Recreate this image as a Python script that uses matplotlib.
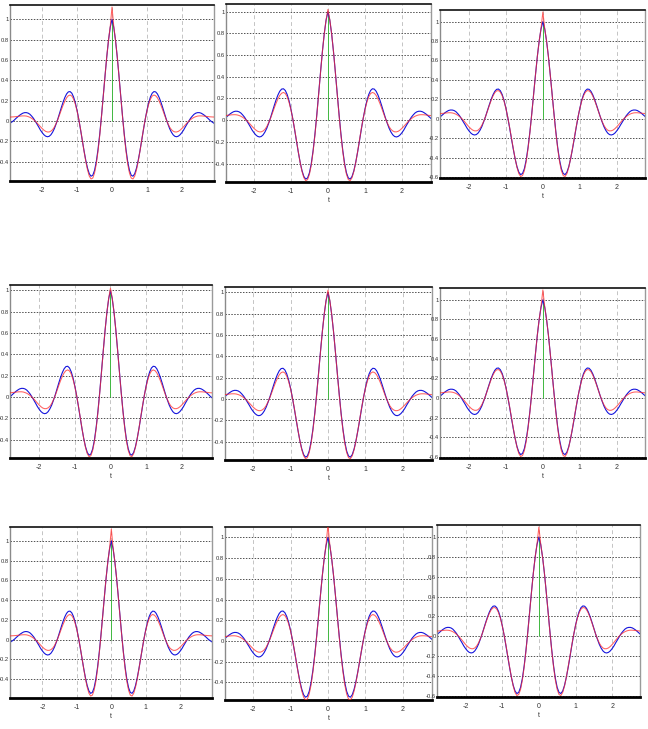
import matplotlib
matplotlib.use("Agg")
import matplotlib.pyplot as plt
from matplotlib.ticker import FixedLocator

# ---------------- data ----------------
t = [-2.95, -2.90, -2.85, -2.80, -2.75, -2.70, -2.65, -2.60, -2.55,
     -2.50, -2.45, -2.40, -2.35, -2.30, -2.25, -2.20, -2.15, -2.10, -2.05,
     -2.00, -1.95, -1.90, -1.85, -1.80, -1.75, -1.70, -1.65, -1.60, -1.55,
     -1.50, -1.45, -1.40, -1.35, -1.30, -1.25, -1.20, -1.15, -1.10, -1.05,
     -1.00, -0.95, -0.90, -0.85, -0.80, -0.75, -0.70, -0.65, -0.60, -0.55,
     -0.50, -0.45, -0.40, -0.35, -0.30, -0.25, -0.20, -0.15, -0.10, -0.05,
     0.00,
     0.05, 0.10, 0.15, 0.20, 0.25, 0.30, 0.35, 0.40, 0.45, 0.50,
     0.55, 0.60, 0.65, 0.70, 0.75, 0.80, 0.85, 0.90, 0.95, 1.00,
     1.05, 1.10, 1.15, 1.20, 1.25, 1.30, 1.35, 1.40, 1.45, 1.50,
     1.55, 1.60, 1.65, 1.70, 1.75, 1.80, 1.85, 1.90, 1.95, 2.00,
     2.05, 2.10, 2.15, 2.20, 2.25, 2.30, 2.35, 2.40, 2.45, 2.50,
     2.55, 2.60, 2.65, 2.70, 2.75, 2.80, 2.85, 2.90, 2.95]

# blue response, left and middle columns
blue_a = [-0.029, -0.018, -0.006, 0.008, 0.025, 0.040, 0.055, 0.067, 0.077,
          0.082, 0.082, 0.077, 0.066, 0.048, 0.027, 0.000, -0.029, -0.058, -0.089,
          -0.114, -0.135, -0.149, -0.155, -0.151, -0.136, -0.110, -0.075, -0.029, 0.021,
          0.077, 0.133, 0.186, 0.231, 0.266, 0.286, 0.289, 0.273, 0.236, 0.179,
          0.104, 0.015, -0.086, -0.191, -0.294, -0.388, -0.465, -0.519, -0.543, -0.533,
          -0.486, -0.401, -0.279, -0.126, 0.052, 0.246, 0.442, 0.630, 0.794, 0.922,
          1.000,
          0.922, 0.794, 0.630, 0.442, 0.246, 0.052, -0.126, -0.279, -0.401, -0.486,
          -0.533, -0.543, -0.519, -0.465, -0.388, -0.294, -0.191, -0.086, 0.015, 0.104,
          0.179, 0.236, 0.273, 0.289, 0.286, 0.266, 0.231, 0.186, 0.133, 0.077,
          0.021, -0.029, -0.075, -0.110, -0.136, -0.151, -0.155, -0.149, -0.135, -0.114,
          -0.089, -0.058, -0.029, 0.000, 0.027, 0.048, 0.066, 0.077, 0.082, 0.082,
          0.077, 0.067, 0.055, 0.040, 0.025, 0.008, -0.006, -0.018, -0.029]

# blue response, right-hand column (slightly larger lobes)
blue_b = [-0.032, -0.020, -0.007, 0.009, 0.028, 0.044, 0.061, 0.074, 0.085,
          0.090, 0.090, 0.085, 0.073, 0.053, 0.030, 0.000, -0.032, -0.063, -0.096,
          -0.123, -0.146, -0.161, -0.167, -0.163, -0.147, -0.119, -0.081, -0.031, 0.022,
          0.082, 0.141, 0.197, 0.245, 0.282, 0.303, 0.306, 0.289, 0.250, 0.190,
          0.110, 0.016, -0.091, -0.203, -0.312, -0.411, -0.493, -0.550, -0.575, -0.564,
          -0.514, -0.423, -0.293, -0.132, 0.054, 0.254, 0.452, 0.640, 0.800, 0.925,
          1.000,
          0.925, 0.800, 0.640, 0.452, 0.254, 0.054, -0.132, -0.293, -0.423, -0.514,
          -0.564, -0.575, -0.550, -0.493, -0.411, -0.312, -0.203, -0.091, 0.016, 0.110,
          0.190, 0.250, 0.289, 0.306, 0.303, 0.282, 0.245, 0.197, 0.141, 0.082,
          0.022, -0.031, -0.081, -0.119, -0.147, -0.163, -0.167, -0.161, -0.146, -0.123,
          -0.096, -0.063, -0.032, 0.000, 0.030, 0.053, 0.073, 0.085, 0.090, 0.090,
          0.085, 0.074, 0.061, 0.044, 0.028, 0.009, -0.007, -0.020, -0.032]

# red approximation: with a tall spike at t = 0
red_spike = [0.038, 0.039, 0.040, 0.041, 0.043, 0.045, 0.047, 0.049, 0.050,
             0.050, 0.048, 0.043, 0.036, 0.026, 0.014, -0.001, -0.018, -0.037, -0.056,
             -0.074, -0.090, -0.102, -0.108, -0.108, -0.100, -0.085, -0.060, -0.025, 0.016,
             0.062, 0.110, 0.155, 0.195, 0.228, 0.248, 0.255, 0.245, 0.215, 0.165,
             0.098, 0.015, -0.082, -0.190, -0.298, -0.398, -0.482, -0.542, -0.570, -0.561,
             -0.512, -0.424, -0.296, -0.138, 0.045, 0.242, 0.442, 0.632, 0.795, 0.930,
             1.120,
             0.930, 0.795, 0.632, 0.442, 0.242, 0.045, -0.138, -0.296, -0.424, -0.512,
             -0.561, -0.570, -0.542, -0.482, -0.398, -0.298, -0.190, -0.082, 0.015, 0.098,
             0.165, 0.215, 0.245, 0.255, 0.248, 0.228, 0.195, 0.155, 0.110, 0.062,
             0.016, -0.025, -0.060, -0.085, -0.100, -0.108, -0.108, -0.102, -0.090, -0.074,
             -0.056, -0.037, -0.018, -0.001, 0.014, 0.026, 0.036, 0.043, 0.048, 0.050,
             0.050, 0.049, 0.047, 0.045, 0.043, 0.041, 0.040, 0.039, 0.038]

# red approximation: peak close to 1
red_flat = [0.038, 0.039, 0.040, 0.041, 0.043, 0.045, 0.047, 0.049, 0.050,
            0.050, 0.048, 0.043, 0.036, 0.026, 0.014, -0.001, -0.018, -0.037, -0.056,
            -0.074, -0.090, -0.102, -0.108, -0.108, -0.100, -0.085, -0.060, -0.025, 0.016,
            0.062, 0.110, 0.155, 0.195, 0.228, 0.248, 0.255, 0.245, 0.215, 0.165,
            0.098, 0.015, -0.080, -0.186, -0.292, -0.390, -0.472, -0.530, -0.558, -0.548,
            -0.500, -0.415, -0.290, -0.135, 0.045, 0.240, 0.440, 0.630, 0.795, 0.925,
            1.020,
            0.925, 0.795, 0.630, 0.440, 0.240, 0.045, -0.135, -0.290, -0.415, -0.500,
            -0.548, -0.558, -0.530, -0.472, -0.390, -0.292, -0.186, -0.080, 0.015, 0.098,
            0.165, 0.215, 0.245, 0.255, 0.248, 0.228, 0.195, 0.155, 0.110, 0.062,
            0.016, -0.025, -0.060, -0.085, -0.100, -0.108, -0.108, -0.102, -0.090, -0.074,
            -0.056, -0.037, -0.018, -0.001, 0.014, 0.026, 0.036, 0.043, 0.048, 0.050,
            0.050, 0.049, 0.047, 0.045, 0.043, 0.041, 0.040, 0.039, 0.038]

# red approximation: right-hand column
red_deep = [0.050, 0.050, 0.051, 0.052, 0.054, 0.056, 0.058, 0.060, 0.062,
            0.062, 0.060, 0.055, 0.047, 0.036, 0.022, 0.005, -0.015, -0.037, -0.060,
            -0.082, -0.101, -0.116, -0.124, -0.125, -0.117, -0.098, -0.068, -0.027, 0.022,
            0.077, 0.134, 0.187, 0.233, 0.268, 0.287, 0.290, 0.274, 0.238, 0.182,
            0.108, 0.018, -0.085, -0.195, -0.305, -0.410, -0.500, -0.565, -0.595, -0.585,
            -0.535, -0.440, -0.305, -0.140, 0.048, 0.250, 0.450, 0.640, 0.800, 0.930,
            1.100,
            0.930, 0.800, 0.640, 0.450, 0.250, 0.048, -0.140, -0.305, -0.440, -0.535,
            -0.585, -0.595, -0.565, -0.500, -0.410, -0.305, -0.195, -0.085, 0.018, 0.108,
            0.182, 0.238, 0.274, 0.290, 0.287, 0.268, 0.233, 0.187, 0.134, 0.077,
            0.022, -0.027, -0.068, -0.098, -0.117, -0.125, -0.124, -0.116, -0.101, -0.082,
            -0.060, -0.037, -0.015, 0.005, 0.022, 0.036, 0.047, 0.055, 0.060, 0.062,
            0.062, 0.060, 0.058, 0.056, 0.054, 0.052, 0.051, 0.050, 0.050]

stem_height = 1.0
x_ticks = [-2, -1, 0, 1, 2]
x_tick_labels = ["-2", "-1", "0", "1", "2"]
y_ticks_a = [-0.4, -0.2, 0, 0.2, 0.4, 0.6, 0.8, 1]
y_ticks_b = [-0.6, -0.4, -0.2, 0, 0.2, 0.4, 0.6, 0.8, 1]
x_label = "t"

# ---------------- layout: pixel boxes (left, top, right, bottom) ----------------
W, H = 648, 729
panels = [
    # box,                 xlim,            ylim,           blue,   red,       yticks,    xlabel
    ((10, 5, 214, 181),    (-2.92, 2.92), (-0.59, 1.14), blue_a, red_spike, y_ticks_a, False),
    ((226, 4, 431, 182),   (-2.75, 2.78), (-0.57, 1.07), blue_a, red_flat,  y_ticks_a, True),
    ((440, 10, 645, 178),  (-2.78, 2.76), (-0.61, 1.12), blue_b, red_deep,  y_ticks_b, True),
    ((10, 285, 212, 458),  (-2.82, 2.85), (-0.57, 1.05), blue_a, red_flat,  y_ticks_a, True),
    ((225, 287, 432, 460), (-2.75, 2.78), (-0.57, 1.05), blue_a, red_flat,  y_ticks_a, True),
    ((440, 288, 645, 458), (-2.78, 2.76), (-0.61, 1.12), blue_b, red_deep,  y_ticks_b, True),
    ((10, 527, 212, 698),  (-2.94, 2.92), (-0.59, 1.14), blue_a, red_spike, y_ticks_a, True),
    ((225, 527, 432, 700), (-2.75, 2.78), (-0.57, 1.10), blue_a, red_spike, y_ticks_a, True),
    ((437, 525, 640, 697), (-2.78, 2.76), (-0.61, 1.12), blue_b, red_deep,  y_ticks_b, True),
]

plt.rcParams['font.family'] = ['Liberation Sans Narrow', 'Liberation Sans', 'DejaVu Sans']
plt.rcParams['axes.unicode_minus'] = False
fig = plt.figure(figsize=(W / 100, H / 100), dpi=100)
fig.patch.set_facecolor('white')


def fmt(v):
    if abs(v) < 1e-9:
        return "0"
    if abs(v - round(v)) < 1e-9:
        return str(int(round(v)))
    return ("%.1f" % v)


for box, xl, yl, blue, red, yt, has_xlabel in panels:
    l, tp, r, b = box
    ax = fig.add_axes([l / W, 1 - b / H, (r - l) / W, (b - tp) / H])
    ax.set_xlim(*xl)
    ax.set_ylim(*yl)
    for xv in x_ticks:
        ax.axvline(xv, color='#c4c4c4', lw=0.7, ls=(0, (4, 3)), zorder=0)
    for yv in yt:
        ax.axhline(yv, color='#505050', lw=0.7, ls=(0, (1.5, 1.5)), zorder=0)
    ax.plot(t, blue, color='#1414dc', lw=0.8, zorder=2)
    ax.plot(t, red, color='#ff2a2a', lw=0.75, alpha=0.75, zorder=3)
    ax.vlines([0], [0], [stem_height], color='#40b840', lw=0.7, zorder=1)
    ax.xaxis.set_major_locator(FixedLocator(x_ticks))
    ax.set_xticklabels(x_tick_labels)
    ax.yaxis.set_major_locator(FixedLocator(yt))
    ax.set_yticklabels([fmt(v) for v in yt])
    ax.tick_params(axis='y', length=0, labelsize=4.2, colors='#333333', pad=0.8)
    ax.tick_params(axis='x', length=0, labelsize=5, colors='#333333', pad=4)
    if has_xlabel:
        ax.set_xlabel(x_label, fontsize=5, color='#333333', labelpad=2)
    ax.spines['top'].set_color('#111111')
    ax.spines['top'].set_linewidth(1.2)
    ax.spines['bottom'].set_color('#000000')
    ax.spines['bottom'].set_linewidth(2.0)
    ax.spines['left'].set_color('#8a8a8a')
    ax.spines['left'].set_linewidth(1.0)
    ax.spines['right'].set_color('#9a9a9a')
    ax.spines['right'].set_linewidth(1.0)

fig.savefig("out.png", dpi=100)
